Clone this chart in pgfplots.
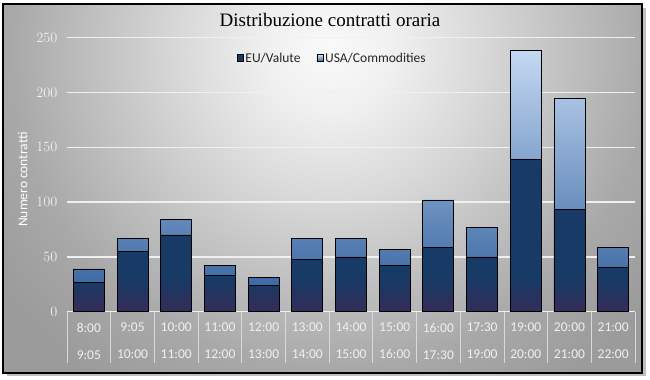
\documentclass[border=0pt]{standalone}
\usepackage{fontspec}
\setmainfont{Carlito}
\newfontfamily\titlefont{Liberation Serif}
\usepackage{pgfplots}
\pgfplotsset{compat=1.18}
\definecolor{navy}{HTML}{173A66}
\definecolor{navybot}{HTML}{352D58}
\definecolor{lbtop}{HTML}{C4D8F2}
\definecolor{lbbot}{HTML}{3D6AA4}
\definecolor{ticklab}{HTML}{F0F0F0}
\pgfdeclareradialshading{bgshade}{\pgfpoint{0bp}{0bp}}{color(0bp)=(black!2); color(4bp)=(black!6); color(9.4bp)=(black!15); color(20bp)=(black!34); color(25bp)=(black!39); color(50bp)=(black!42)}
\pgfdeclareverticalshading{eushade}{100bp}{color(0bp)=(navybot); color(25bp)=(navybot); color(36bp)=(navy); color(100bp)=(navy)}
\begin{document}
\begin{tikzpicture}[x=1bp,y=1bp]
\path[use as bounding box, fill=white] (0,0) rectangle (650,379);
\fill[black!25] (7,3) rectangle (646,371);
\begin{scope}
\clip (3,6) rectangle (642,375);
\shade[shading=bgshade] (-70,-70) rectangle (730,730);
\end{scope}
\draw[black, line width=2.5bp] (3,6) rectangle (642,375);
\node[font=\titlefont\fontsize{19bp}{22bp}\selectfont, text=black] at (330,359) {Distribuzione contratti oraria};
\begin{axis}[
  at={(67bp,67.3bp)}, anchor=south west,
  scale only axis, width=568bp, height=274bp,
  ymin=0, ymax=250, xmin=-0.5, xmax=12.5,
  ybar stacked, bar width=31bp,
  axis line style={draw=none},
  ymajorgrids, major grid style={draw=white!94!black, line width=1.3bp},
  ytick={0,50,...,250},
  xtick={0,...,12},
  xticklabels={{8:00\\[11bp]9:05},{9:05\\[11bp]10:00},{10:00\\[11bp]11:00},{11:00\\[11bp]12:00},{12:00\\[11bp]13:00},{13:00\\[11bp]14:00},{14:00\\[11bp]15:00},{15:00\\[11bp]16:00},{16:00\\[11bp]17:30},{17:30\\[11bp]19:00},{19:00\\[11bp]20:00},{20:00\\[11bp]21:00},{21:00\\[11bp]22:00}},
  minor xtick={-0.5,0.5,...,12.5},
  xtick pos=left,
  tick align=outside,
  major tick length=0pt,
  minor tick length=51bp,
  minor tick style={draw=white!85!black, line width=0.8bp},
  major tick style={draw=none},
  tick label style={font=\fontsize{13.5bp}{16bp}\selectfont, text=ticklab},
  xticklabel style={align=center, yshift=-8bp},
  yticklabel style={xshift=-6bp},
  ylabel={Numero contratti},
  every axis y label/.style={at={(axis description cs:-0.078,0.4825)}, rotate=90, anchor=center, font=\fontsize{13.5bp}{16bp}\selectfont, text=white},
  legend style={at={(axis description cs:0.467,0.96)}, anchor=north, draw=none, fill=none, legend columns=2, font=\fontsize{13.5bp}{16bp}\selectfont, text=black!85, /tikz/every even column/.append style={column sep=14bp}},
  legend image code/.code={\draw[#1, line width=0.6bp] (0bp,-3bp) rectangle (6bp,3.5bp);},
  clip=false,
]
\addplot[draw=black, line width=0.8bp, shading=eushade] coordinates {
(0,27) (1,55) (2,70) (3,33) (4,24) (5,48) (6,50) (7,42) (8,59) (9,50) (10,139) (11,93) (12,40)};
\addlegendentry{EU/Valute}
\addplot[draw=black, line width=0.8bp, top color=lbtop, bottom color=lbbot] coordinates {
(0,12) (1,12) (2,14) (3,9) (4,7) (5,19) (6,17) (7,15) (8,43) (9,27) (10,99) (11,102) (12,19)};
\addlegendentry{USA/Commodities}
\end{axis}
\end{tikzpicture}
\end{document}
